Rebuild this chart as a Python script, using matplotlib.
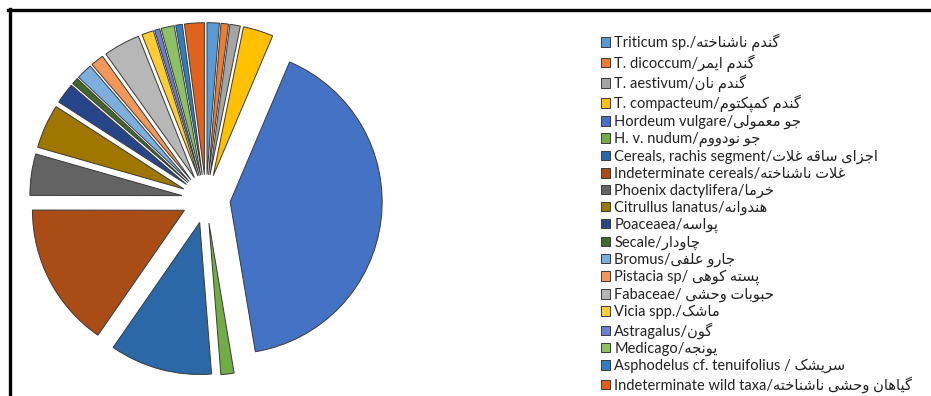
import matplotlib
matplotlib.use("Agg")
from matplotlib import pyplot as plt
from matplotlib.lines import Line2D

# taxa, in the order of the legend (pie goes clockwise from 12 o'clock)
latin = ["Triticum sp./", "T. dicoccum/", "T. aestivum/", "T. compacteum/",
         "Hordeum vulgare/", "H. v. nudum/", "Cereals, rachis segment/",
         "Indeterminate cereals/", "Phoenix dactylifera/", "Citrullus lanatus/",
         "Poaceaea/", "Secale/", "Bromus/", "Pistacia sp/ ", "Fabaceae/ ",
         "Vicia spp./", "Astragalus/", "Medicago/",
         "Asphodelus cf. tenuifolius / ", "Indeterminate wild taxa/"]
persian = ["گندم ناشناخته", "گندم ایمر", "گندم نان", "گندم کمپکتوم",
           "جو معمولی", "جو نودووم", "اجزای ساقه غلات", "غلات ناشناخته",
           "خرما", "هندوانه", "پواسه", "چاودار", "جارو علفی", "پسته کوهی",
           "حبوبات وحشی", "ماشک", "گون", "یونجه", "سریشک",
           "گیاهان وحشی ناشناخته"]
# share of the pie (percent)
share = [1.3, 0.8, 1.1, 3.2, 41.0, 1.4, 10.9, 15.4, 4.4, 4.7,
         2.2, 0.7, 1.7, 1.4, 3.9, 1.25, 0.55, 1.4, 0.7, 2.1]
colors = ["#5B9BD5", "#ED7D31", "#A5A5A5", "#FFC000", "#4472C4", "#70AD47",
          "#2C67A8", "#A94C16", "#636363", "#9E7600", "#27468A", "#43682B",
          "#7CAFDD", "#F1975A", "#B7B7B7", "#FFCD33", "#6A7FD0", "#8CC168",
          "#327DC2", "#E0621E"]

# tiny arabic shaper: (isolated, final, initial, medial)
FORMS = {
    "ا": (0xFE8D, 0xFE8E, None, None), "آ": (0xFE81, 0xFE82, None, None),
    "ب": (0xFE8F, 0xFE90, 0xFE91, 0xFE92), "پ": (0xFB56, 0xFB57, 0xFB58, 0xFB59),
    "ت": (0xFE95, 0xFE96, 0xFE97, 0xFE98), "ج": (0xFE9D, 0xFE9E, 0xFE9F, 0xFEA0),
    "چ": (0xFB7A, 0xFB7B, 0xFB7C, 0xFB7D), "ح": (0xFEA1, 0xFEA2, 0xFEA3, 0xFEA4),
    "خ": (0xFEA5, 0xFEA6, 0xFEA7, 0xFEA8), "د": (0xFEA9, 0xFEAA, None, None),
    "ر": (0xFEAD, 0xFEAE, None, None), "ز": (0xFEAF, 0xFEB0, None, None),
    "س": (0xFEB1, 0xFEB2, 0xFEB3, 0xFEB4), "ش": (0xFEB5, 0xFEB6, 0xFEB7, 0xFEB8),
    "ع": (0xFEC9, 0xFECA, 0xFECB, 0xFECC), "غ": (0xFECD, 0xFECE, 0xFECF, 0xFED0),
    "ف": (0xFED1, 0xFED2, 0xFED3, 0xFED4), "ق": (0xFED5, 0xFED6, 0xFED7, 0xFED8),
    "ک": (0xFB8E, 0xFB8F, 0xFB90, 0xFB91), "گ": (0xFB92, 0xFB93, 0xFB94, 0xFB95),
    "ل": (0xFEDD, 0xFEDE, 0xFEDF, 0xFEE0), "م": (0xFEE1, 0xFEE2, 0xFEE3, 0xFEE4),
    "ن": (0xFEE5, 0xFEE6, 0xFEE7, 0xFEE8), "و": (0xFEED, 0xFEEE, None, None),
    "ه": (0xFEE9, 0xFEEA, 0xFEEB, 0xFEEC), "ی": (0xFBFC, 0xFBFD, 0xFBFE, 0xFBFF),
}
LAMALEF = {"ا": (0xFEFB, 0xFEFC), "آ": (0xFEF5, 0xFEF6)}


def shape(text):
    out = []
    i = 0
    while i < len(text):
        c = text[i]
        if c not in FORMS:
            out.append(c)
            i += 1
            continue
        prev = text[i - 1] if i > 0 else None
        joins_prev = prev in FORMS and FORMS[prev][2] is not None
        if c == "ل" and i + 1 < len(text) and text[i + 1] in LAMALEF:
            lig = LAMALEF[text[i + 1]]
            out.append(chr(lig[1] if joins_prev else lig[0]))
            i += 2
            continue
        nxt = text[i + 1] if i + 1 < len(text) else None
        joins_next = FORMS[c][2] is not None and nxt in FORMS
        iso, fin, ini, med = FORMS[c]
        if joins_prev and joins_next:
            f = med
        elif joins_prev:
            f = fin
        elif joins_next:
            f = ini
        else:
            f = iso
        out.append(chr(f))
        i += 1
    return "".join(out)[::-1]  # visual order


labels = [la + shape(fa) for la, fa in zip(latin, persian)]

W, H = 931, 396
fig = plt.figure(figsize=(W / 100, H / 100), dpi=100)

# pie: centre ~ (206, 199) px, radius ~152 px
lim = 1.3
rad = 152
size = 2 * lim * rad
ax = fig.add_axes([(206 - size / 2) / W, (H - 199 - size / 2) / H, size / W, size / H])
wedges, _ = ax.pie(share, colors=colors, explode=[0.16] * len(share),
                   startangle=90, counterclock=False,
                   wedgeprops=dict(edgecolor="#3a3a3a", linewidth=0.7))
ax.set_xlim(-lim, lim)
ax.set_ylim(-lim, lim)
ax.set_aspect("equal")
ax.axis("off")

leg = fig.legend(wedges, labels, loc="upper left",
                 bbox_to_anchor=(601 / W, (H - 34) / H),
                 frameon=False, borderpad=0, borderaxespad=0,
                 handlelength=0.65, handleheight=0.65, handletextpad=0.25,
                 labelspacing=0.19,
                 prop=dict(family=["Lato", "DejaVu Sans"], size=10.5))
for t in leg.get_texts():
    t.set_color("#222222")

# black frame, top and left only (the picture is cropped)
fig.add_artist(Line2D([8 / W, 1.0], [(H - 10) / H] * 2, color="black", lw=2.4,
                      transform=fig.transFigure))
fig.add_artist(Line2D([9.5 / W] * 2, [0.0, (H - 9) / H], color="black", lw=2.4,
                      transform=fig.transFigure))

fig.savefig("out.png", dpi=100)
